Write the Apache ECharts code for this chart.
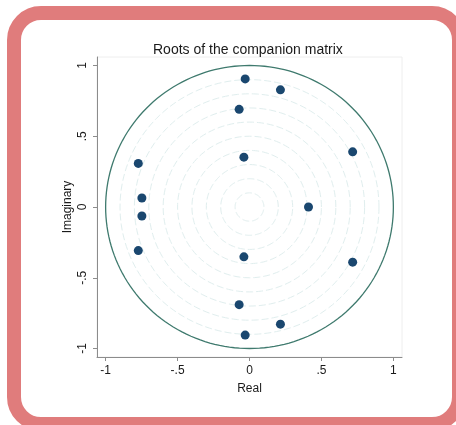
<!DOCTYPE html>
<html>
<head>
<meta charset="utf-8">
<script src="https://cdn.jsdelivr.net/npm/echarts@6/dist/echarts.min.js"></script>
<style>
html,body{margin:0;padding:0;background:#fff;width:456px;height:425px;overflow:hidden;}
#frame{position:absolute;left:7px;top:6px;width:431px;height:397px;border:14px solid #E07C7C;border-radius:34px;background:#fff;}
#chart{position:absolute;left:0;top:0;width:456px;height:425px;}
</style>
</head>
<body>
<div id="frame"></div>
<div id="chart"></div>
<script>
// Roots (real, imaginary)
const realParts = [-0.030, -0.030, 0.215, 0.215, -0.072, -0.072, 0.717, 0.717, -0.773, -0.773, -0.039, -0.039, -0.748, -0.748, 0.410];
const imagParts = [0.905, -0.905, 0.828, -0.828, 0.690, -0.690, 0.390, -0.390, 0.308, -0.308, 0.352, -0.352, 0.064, -0.064, 0.000];
const ringRadii = [0.1, 0.2, 0.3, 0.4, 0.5, 0.6, 0.7, 0.8, 0.9];
const unitRadius = [1];
const tickValues = [-1, -0.5, 0, 0.5, 1];

function fmt(v){
  if (Math.abs(v) < 1e-9) return '0';
  let s = String(Math.round(v*100)/100);
  return s.replace(/^(-?)0\./, '$1.');
}

const points = realParts.map((r, i) => [r, imagParts[i]]);

function circleRender(color, dash){
  return function(params, api){
    const r = api.value(0);
    const pts = [];
    for (let k = 0; k <= 360; k += 2){
      const t = k * Math.PI / 180;
      pts.push(api.coord([r * Math.cos(t), r * Math.sin(t)]));
    }
    return {
      type: 'polyline',
      shape: { points: pts },
      style: { stroke: color, lineWidth: dash ? 1 : 1.3, fill: null, lineDash: dash ? [7, 3] : null }
    };
  };
}

const FONT = 'Liberation Sans, Arial, sans-serif';
const chart = echarts.init(document.getElementById('chart'), null, {renderer: 'canvas'});
chart.setOption({
  backgroundColor: 'transparent',
  animation: false,
  title: {
    text: 'Roots of the companion matrix',
    left: 148,
    top: 38,
    textStyle: { fontFamily: FONT, fontSize: 14, fontWeight: 'normal', color: '#1a1a1a' }
  },
  grid: { left: 97, top: 57, width: 305, height: 300, show: true, borderColor: '#eeeeee', borderWidth: 1, backgroundColor: '#fff' },
  xAxis: {
    type: 'value', min: -1.06, max: 1.06,
    name: 'Real', nameLocation: 'middle', nameGap: 26, nameMoveOverlap: false,
    nameTextStyle: { fontFamily: FONT, fontSize: 12, color: '#1a1a1a' },
    axisLine: { show: true, onZero: false, lineStyle: { color: '#8c8c8c', width: 1 } },
    axisTick: { show: true, length: 4, customValues: tickValues, lineStyle: { color: '#8c8c8c' } },
    axisLabel: { customValues: tickValues, formatter: fmt, margin: 8, fontFamily: FONT, fontSize: 12, color: '#1a1a1a' },
    splitLine: { show: false }
  },
  yAxis: {
    type: 'value', min: -1.06, max: 1.06,
    name: 'Imaginary', nameLocation: 'middle', nameGap: 23, nameMoveOverlap: false,
    nameTextStyle: { fontFamily: FONT, fontSize: 12, color: '#1a1a1a' },
    axisLine: { show: true, onZero: false, lineStyle: { color: '#8c8c8c', width: 1 } },
    axisTick: { show: true, length: 4, customValues: tickValues, lineStyle: { color: '#8c8c8c' } },
    axisLabel: { customValues: tickValues, formatter: fmt, rotate: 90, margin: 8, fontFamily: FONT, fontSize: 12, color: '#1a1a1a' },
    splitLine: { show: false }
  },
  series: [
    {
      type: 'custom', coordinateSystem: 'cartesian2d', silent: true,
      data: ringRadii.map(r => [r, 0]),
      encode: { x: 0, y: 1 },
      renderItem: circleRender('#e0eeee', true),
      z: 1
    },
    {
      type: 'custom', coordinateSystem: 'cartesian2d', silent: true,
      data: unitRadius.map(r => [r, 0]),
      encode: { x: 0, y: 1 },
      renderItem: circleRender('#3f7a6e', false),
      z: 2
    },
    {
      type: 'scatter',
      data: points,
      symbol: 'circle',
      symbolSize: 9,
      itemStyle: { color: '#1a476f', opacity: 1 },
      z: 3
    }
  ]
});
</script>
</body>
</html>
